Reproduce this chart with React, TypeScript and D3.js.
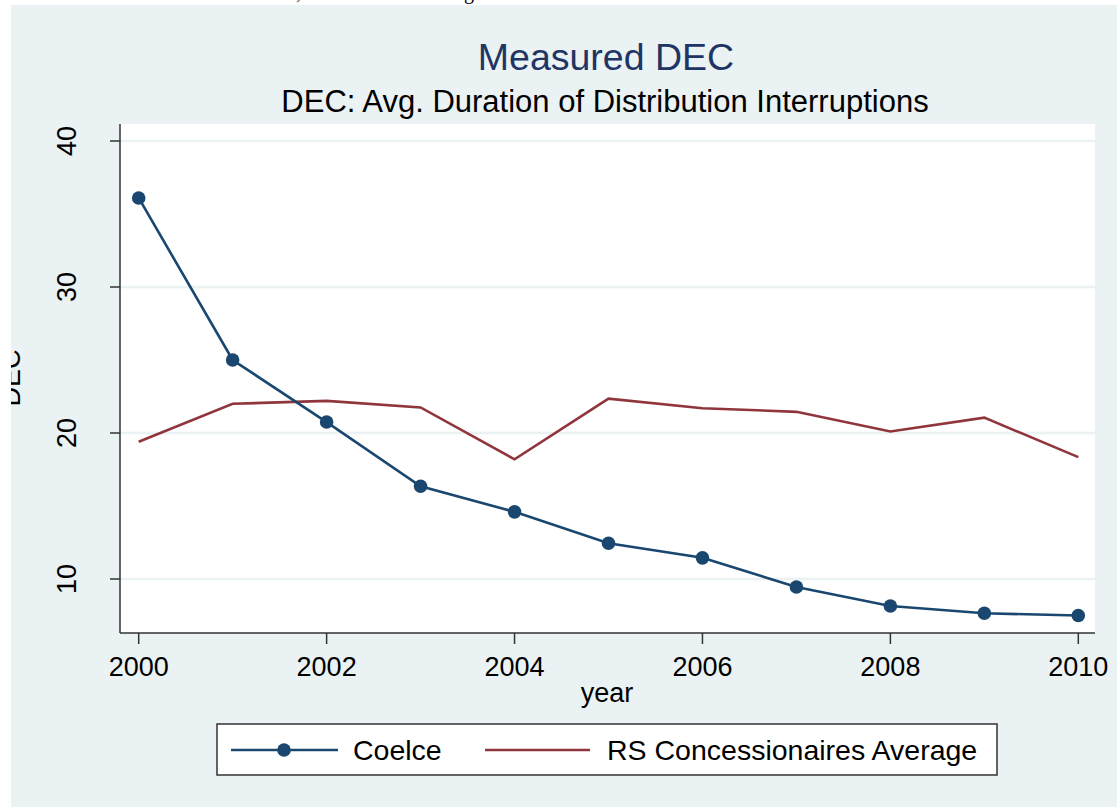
import React from "react";
import * as d3 from "d3";

const years = [2000, 2001, 2002, 2003, 2004, 2005, 2006, 2007, 2008, 2009, 2010];
const coelce = [36.1, 25.0, 20.75, 16.35, 14.6, 12.45, 11.45, 9.45, 8.15, 7.65, 7.5];
const rsAverage = [19.4, 22.0, 22.2, 21.75, 18.2, 22.35, 21.7, 21.45, 20.1, 21.05, 18.35];
const yTicks = [10, 20, 30, 40];
const xTicks = [2000, 2002, 2004, 2006, 2008, 2010];
const seriesNames = ["Coelce", "RS Concessionaires Average"];

const W = 1117;
const H = 807;
const BG = "#EAF2F3";
const NAVY = "#1A476F";
const MAROON = "#90353B";
const AXIS = "#333333";
const FONT = "'Liberation Sans', Arial, Helvetica, sans-serif";

export default function App() {
  const plot = { left: 120, right: 1095, top: 124, bottom: 633 };
  const x = d3.scaleLinear().domain([2000, 2010]).range([138.7, 1078.3]);
  const y = d3.scaleLinear().domain([10, 40]).range([579, 141]);

  const line = d3
    .line<[number, number]>()
    .x((d) => x(d[0]))
    .y((d) => y(d[1]));

  const cData: [number, number][] = years.map((yr, i) => [yr, coelce[i]]);
  const rData: [number, number][] = years.map((yr, i) => [yr, rsAverage[i]]);

  return (
    <svg
      width={W}
      height={H}
      style={{ position: "absolute", left: 0, top: 0, background: "#fff" }}
      fontFamily={FONT}
    >
      <defs>
        <clipPath id="leftclip">
          <rect x={11} y={0} width={W} height={H} />
        </clipPath>
      </defs>
      {/* fragments of text above the cropped figure */}
      <text x={296} y={-1} fontFamily="'Liberation Serif', 'Times New Roman', serif" fontSize={20} fill="#000">,</text>
      <text x={464} y={-1} fontFamily="'Liberation Serif', 'Times New Roman', serif" fontSize={20} fill="#000">g</text>

      <rect x={11} y={5} width={W - 11} height={H - 5} fill={BG} />

      {/* titles */}
      <text x={606} y={70} textAnchor="middle" fontSize={37.5} fill="#1E3565">
        Measured DEC
      </text>
      <text x={605} y={112} textAnchor="middle" fontSize={31} fill="#000">
        DEC: Avg. Duration of Distribution Interruptions
      </text>

      {/* plot region */}
      <rect
        x={plot.left}
        y={plot.top}
        width={plot.right - plot.left}
        height={plot.bottom - plot.top}
        fill="#fff"
      />
      {yTicks.map((t) => (
        <line
          key={"g" + t}
          x1={plot.left}
          x2={plot.right}
          y1={y(t)}
          y2={y(t)}
          stroke={BG}
          strokeWidth={2.5}
        />
      ))}

      {/* axes */}
      <line x1={plot.left} x2={plot.left} y1={plot.top} y2={plot.bottom} stroke={AXIS} strokeWidth={1.5} />
      <line x1={plot.left} x2={plot.right} y1={plot.bottom} y2={plot.bottom} stroke={AXIS} strokeWidth={1.5} />

      {yTicks.map((t) => (
        <g key={"yt" + t}>
          <line x1={plot.left - 10} x2={plot.left} y1={y(t)} y2={y(t)} stroke={AXIS} strokeWidth={1.5} />
          <text
            transform={`translate(76,${y(t)}) rotate(-90)`}
            textAnchor="middle"
            fontSize={27}
            fill="#000"
          >
            {t}
          </text>
        </g>
      ))}
      {xTicks.map((t) => (
        <g key={"xt" + t}>
          <line x1={x(t)} x2={x(t)} y1={plot.bottom} y2={plot.bottom + 11} stroke={AXIS} strokeWidth={1.5} />
          <text x={x(t)} y={676} textAnchor="middle" fontSize={27} fill="#000">
            {t}
          </text>
        </g>
      ))}

      <text x={607} y={702} textAnchor="middle" fontSize={27} fill="#000">
        year
      </text>
      <g clipPath="url(#leftclip)">
        <text
          transform="translate(20,378) rotate(-90)"
          textAnchor="middle"
          fontSize={27}
          fill="#000"
        >
          DEC
        </text>
      </g>

      {/* series */}
      <path d={line(rData) || ""} fill="none" stroke={MAROON} strokeWidth={2.6} />
      <path d={line(cData) || ""} fill="none" stroke={NAVY} strokeWidth={2.6} />
      {cData.map((d, i) => (
        <circle key={"m" + i} cx={x(d[0])} cy={y(d[1])} r={6.8} fill={NAVY} />
      ))}

      {/* legend */}
      <rect x={217} y={724} width={780} height={51} fill="#fff" stroke={AXIS} strokeWidth={1.5} />
      <line x1={231} x2={338} y1={750} y2={750} stroke={NAVY} strokeWidth={2.6} />
      <circle cx={284} cy={750} r={6.8} fill={NAVY} />
      <text x={353} y={760} fontSize={28.5} fill="#000">
        {seriesNames[0]}
      </text>
      <line x1={485} x2={590} y1={750} y2={750} stroke={MAROON} strokeWidth={2.6} />
      <text x={607} y={760} fontSize={28.5} fill="#000">
        {seriesNames[1]}
      </text>
    </svg>
  );
}
